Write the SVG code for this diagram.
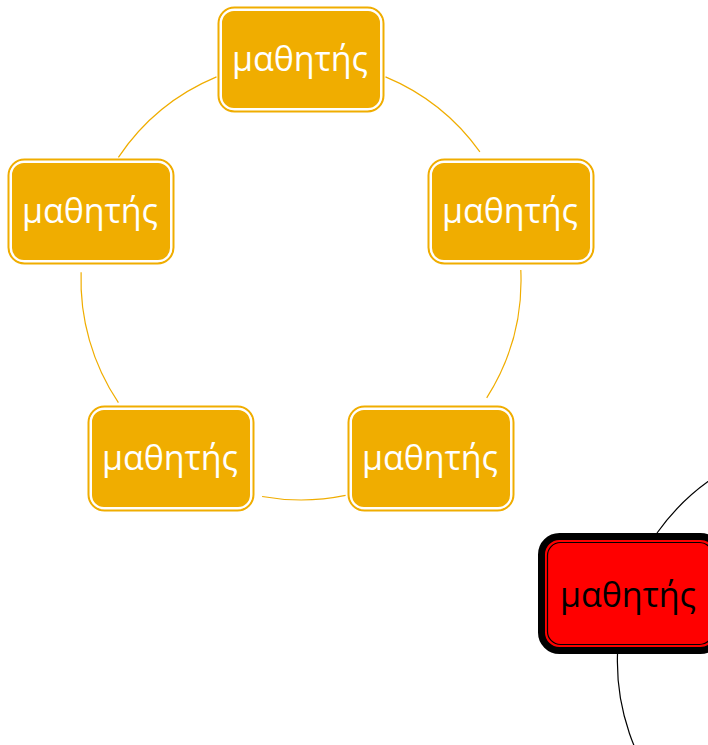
<svg xmlns="http://www.w3.org/2000/svg" width="708" height="745" viewBox="0 0 708 745">
<style>
.arc{fill:none;stroke:#f0ad00;stroke-width:1.2}
.arcb{fill:none;stroke:#000;stroke-width:1.2}
.outer{fill:none;stroke:#f0ad00;stroke-width:2}
.box{fill:#f0ad00;stroke:#fff;stroke-width:2}
.t{font-family:"Open Sans","Noto Sans",sans-serif;font-size:34px;fill:#fff;text-anchor:middle}
.tb{font-family:"Open Sans","Noto Sans",sans-serif;font-size:34px;fill:#000;text-anchor:middle}
</style>
<g id="connectors">
<path class="arc" d="M385.5,76.9 A220,220 0 0 1 479.9,151.9"/>
<path class="arc" d="M520.8,270 A220,220 0 0 1 486.7,397.9"/>
<path class="arc" d="M345.6,495.4 A220,220 0 0 1 262.1,496.5"/>
<path class="arc" d="M118.4,402.7 A220,220 0 0 1 81.1,272.3"/>
<path class="arc" d="M118.4,157.3 A220,220 0 0 1 216.5,76.9"/>
<path class="arcb" d="M657,533 A221,221 0 0 1 762.4,453.3"/>
<path class="arcb" d="M668.7,803 A221,221 0 0 1 617.5,654"/>
</g>
<g id="node-top">
<rect class="outer" x="218.5" y="7.5" width="165" height="104" rx="16"/>
<rect class="box" x="221" y="10" width="160" height="99" rx="13"/>
<text class="t" x="300" y="71">μαθητής</text>
</g>
<g id="node-left">
<rect class="outer" x="8.5" y="159.5" width="165" height="104" rx="16"/>
<rect class="box" x="11" y="162" width="160" height="99" rx="13"/>
<text class="t" x="90" y="223">μαθητής</text>
</g>
<g id="node-right">
<rect class="outer" x="428.5" y="159.5" width="165" height="104" rx="16"/>
<rect class="box" x="431" y="162" width="160" height="99" rx="13"/>
<text class="t" x="510" y="223">μαθητής</text>
</g>
<g id="node-bottom-left">
<rect class="outer" x="88.5" y="406.5" width="165" height="104" rx="16"/>
<rect class="box" x="91" y="409" width="160" height="99" rx="13"/>
<text class="t" x="170" y="470">μαθητής</text>
</g>
<g id="node-bottom-right">
<rect class="outer" x="348.5" y="406.5" width="165" height="104" rx="16"/>
<rect class="box" x="351" y="409" width="160" height="99" rx="13"/>
<text class="t" x="430" y="470">μαθητής</text>
</g>
<g id="node-red">
<rect x="541.5" y="536.5" width="177" height="114" rx="18" fill="#ff0000" stroke="#000" stroke-width="7"/>
<rect x="547.5" y="542.5" width="165" height="102" rx="13" fill="none" stroke="#000" stroke-width="1.2"/>
<text class="tb" x="628" y="607">μαθητής</text>
</g>
</svg>
